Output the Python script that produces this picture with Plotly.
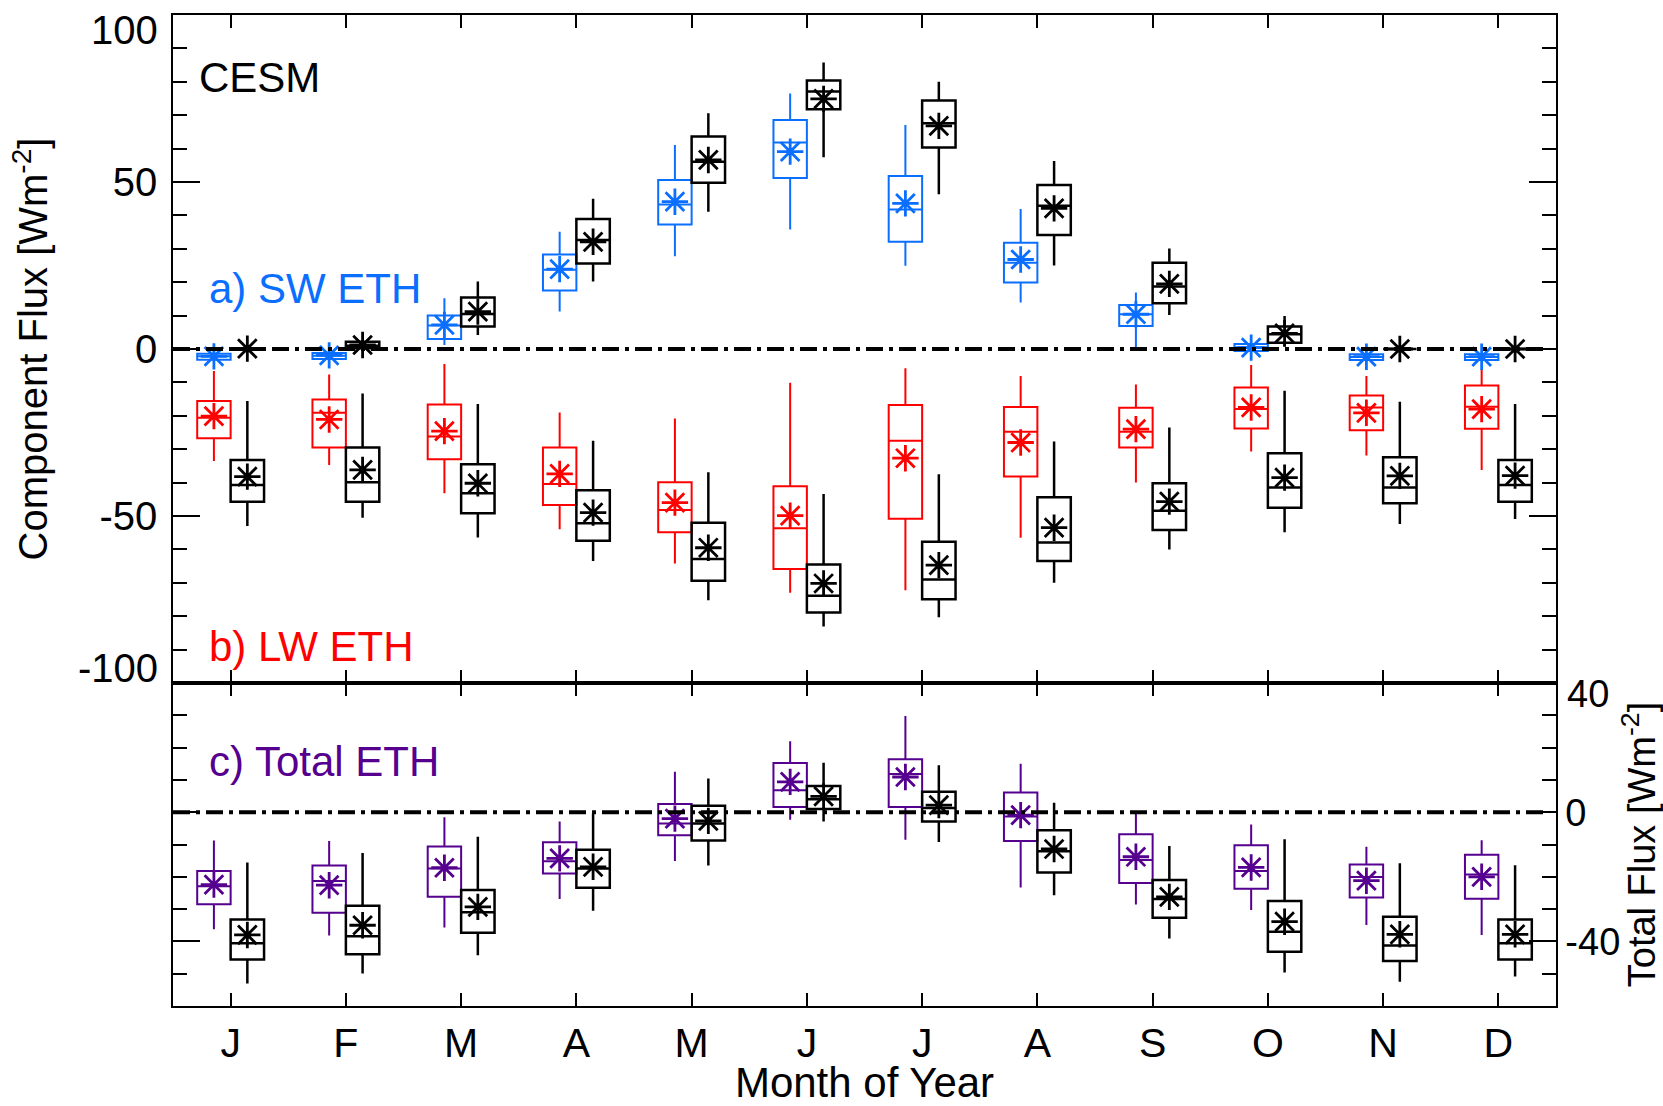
import plotly.graph_objects as go

MONTHS = ["J", "F", "M", "A", "M", "J", "J", "A", "S", "O", "N", "D"]
MONTH_NUM = list(range(1, 13))

# ---- a) SW ETH, model (blue) ----
SW_MOD_LO   = [-3.5, -3.4, 1.2, 11.2, 27.8, 35.8, 24.9, 13.9, 0.2, -0.8, -3.6, -3.6]
SW_MOD_Q1   = [-3.2, -3.0, 3.0, 17.5, 37.3, 51.2, 32.1, 19.9, 6.9, -0.6, -3.3, -3.3]
SW_MOD_MED  = [-2.2, -2.0, 7.0, 23.7, 43.3, 61.8, 41.8, 25.8, 10.4, 0.5, -2.4, -2.4]
SW_MOD_Q3   = [-1.4, -1.2, 10.0, 28.3, 50.6, 68.6, 51.8, 31.8, 13.2, 1.5, -1.6, -1.6]
SW_MOD_HI   = [-1.0, -0.8, 15.2, 35.1, 61.1, 76.5, 67.1, 41.9, 16.9, 1.8, -1.2, -1.2]
SW_MOD_MEAN = [-2.2, -1.9, 7.2, 23.9, 44.1, 59.1, 43.6, 26.8, 10.4, 0.4, -2.3, -2.3]

# ---- a) SW ETH, observations (black) ----
SW_OBS_LO   = [-0.4, 0.0, 4.2, 20.2, 41.1, 57.4, 46.3, 25.0, 10.2, 0.7, 0.0, 0.0]
SW_OBS_Q1   = [-0.2, 0.2, 6.7, 25.6, 49.8, 71.8, 60.3, 34.1, 13.7, 1.9, 0.0, 0.0]
SW_OBS_MED  = [0.0, 1.0, 10.5, 32.6, 56.1, 77.1, 67.6, 42.9, 18.7, 4.4, 0.0, 0.0]
SW_OBS_Q3   = [0.2, 2.2, 15.4, 38.9, 63.6, 80.4, 74.4, 49.1, 25.8, 6.7, 0.0, 0.0]
SW_OBS_HI   = [0.4, 2.6, 20.2, 45.0, 70.6, 85.8, 80.0, 56.3, 30.1, 9.9, 0.0, 0.0]
SW_OBS_MEAN = [0.1, 1.2, 11.2, 32.1, 56.6, 74.9, 66.8, 42.1, 19.5, 4.7, 0.0, 0.0]

# ---- b) LW ETH, model (red) ----
LW_MOD_LO   = [-33.5, -34.7, -43.2, -54.0, -64.2, -73.0, -72.2, -56.5, -40.0, -30.7, -31.9, -36.2]
LW_MOD_Q1   = [-26.7, -29.5, -33.0, -46.7, -54.9, -65.9, -50.8, -38.2, -29.5, -23.8, -24.3, -23.9]
LW_MOD_MED  = [-20.6, -19.1, -26.2, -40.4, -48.2, -53.7, -27.5, -24.8, -24.8, -18.0, -17.5, -17.3]
LW_MOD_Q3   = [-15.6, -15.1, -16.6, -29.5, -39.9, -41.1, -16.8, -17.4, -17.6, -11.5, -13.9, -10.9]
LW_MOD_HI   = [-6.6, -7.6, -4.5, -19.0, -20.8, -10.1, -5.8, -8.1, -10.6, -4.8, -8.1, -6.0]
LW_MOD_MEAN = [-20.1, -21.1, -24.6, -37.4, -46.0, -49.9, -32.7, -28.0, -24.0, -17.5, -19.1, -18.0]

# ---- b) LW ETH, observations (black) ----
LW_OBS_LO   = [-53.0, -50.5, -56.4, -63.5, -75.2, -83.1, -80.3, -70.0, -60.0, -54.9, -52.4, -50.9]
LW_OBS_Q1   = [-45.7, -45.7, -49.2, -57.4, -69.4, -78.9, -74.9, -63.5, -54.2, -47.5, -46.2, -45.7]
LW_OBS_MED  = [-40.7, -39.9, -43.2, -52.2, -62.9, -73.9, -69.0, -57.9, -48.4, -41.5, -41.5, -40.7]
LW_OBS_Q3   = [-33.2, -29.5, -34.5, -42.3, -52.0, -64.5, -57.7, -44.4, -40.2, -31.2, -32.4, -33.2]
LW_OBS_HI   = [-15.6, -13.3, -16.5, -27.5, -36.9, -43.4, -37.5, -27.7, -23.5, -12.5, -15.8, -16.5]
LW_OBS_MEAN = [-38.2, -36.2, -40.2, -49.0, -59.5, -70.2, -64.7, -53.5, -45.7, -38.5, -38.0, -37.9]

# ---- c) Total ETH, model (purple) ----
TOT_MOD_LO   = [-36.2, -38.2, -35.7, -26.9, -15.1, -2.3, -8.5, -23.3, -28.6, -30.3, -34.9, -38.0]
TOT_MOD_Q1   = [-28.5, -31.1, -26.2, -19.0, -7.1, 1.6, 1.6, -8.9, -21.9, -23.7, -26.4, -26.8]
TOT_MOD_MED  = [-22.9, -21.3, -17.4, -15.2, -3.5, 6.8, 11.8, -1.3, -14.8, -18.2, -20.1, -19.3]
TOT_MOD_Q3   = [-18.2, -16.5, -10.6, -9.3, 2.5, 15.2, 16.4, 6.1, -6.8, -10.2, -16.2, -13.2]
TOT_MOD_HI   = [-8.8, -8.9, -1.6, -2.9, 12.5, 22.0, 29.8, 15.0, -0.4, -3.8, -10.7, -8.7]
TOT_MOD_MEAN = [-22.4, -22.6, -17.2, -14.3, -2.0, 9.4, 10.9, -0.9, -13.8, -17.1, -21.2, -20.0]

# ---- c) Total ETH, observations (black) ----
TOT_OBS_LO   = [-53.0, -49.9, -44.3, -30.5, -16.5, -2.9, -9.2, -25.7, -39.1, -49.6, -52.5, -50.9]
TOT_OBS_Q1   = [-45.6, -44.0, -37.3, -23.4, -8.8, 1.0, -2.9, -18.7, -32.7, -43.2, -46.1, -45.6]
TOT_OBS_MED  = [-40.6, -38.4, -31.0, -17.4, -3.5, 4.0, 1.3, -12.1, -26.9, -37.0, -41.3, -40.6]
TOT_OBS_Q3   = [-33.2, -29.0, -24.1, -11.6, 2.0, 8.1, 6.3, -5.6, -21.0, -27.5, -32.4, -33.2]
TOT_OBS_HI   = [-15.6, -12.6, -7.6, -0.4, 10.4, 15.3, 14.5, 2.9, -10.5, -8.4, -15.8, -16.4]
TOT_OBS_MEAN = [-38.0, -35.0, -29.3, -16.9, -2.7, 4.9, 2.2, -11.4, -26.2, -33.9, -37.8, -37.8]

# tick labels
Y1_TICKS = [-50, 0, 50]
Y1_EDGE_TICKS = [-100, 100]
Y2_TICKS = [-40, 0]
Y2_EDGE_TICKS = [40]

BLUE = "#0a6eff"
RED = "#ff0000"
PURPLE = "#55008f"
BLACK = "#000000"
FONT = "Liberation Sans, Arial, Helvetica, sans-serif"

OFF = 0.145
BOXW = 0.29

# page geometry (body margin removed in the page, see write_html below)
W, H = 1663, 1106
PLOT_L, PLOT_R, PLOT_T, PLOT_B = 173, 1556, 15, 1006
PW, PH = PLOT_R - PLOT_L, PLOT_B - PLOT_T

fig = go.Figure()


def add_group(lo, q1, med, q3, hi, mean, color, side, xa, ya, lw):
    xs = [m + side * OFF for m in MONTH_NUM]
    fig.add_trace(go.Box(
        x=xs, q1=q1, median=med, q3=q3, lowerfence=lo, upperfence=hi,
        width=BOXW, whiskerwidth=0, boxpoints=False,
        line=dict(color=color, width=lw), fillcolor="rgba(0,0,0,0)",
        xaxis=xa, yaxis=ya, showlegend=False, hoverinfo="skip",
    ))
    fig.add_trace(go.Scatter(
        x=xs, y=mean, mode="markers",
        marker=dict(symbol="asterisk-open", size=22, color=color,
                    line=dict(color=color, width=2.8)),
        xaxis=xa, yaxis=ya, showlegend=False, hoverinfo="skip",
    ))


add_group(SW_MOD_LO, SW_MOD_Q1, SW_MOD_MED, SW_MOD_Q3, SW_MOD_HI, SW_MOD_MEAN, BLUE, -1, "x", "y", 2)
add_group(SW_OBS_LO, SW_OBS_Q1, SW_OBS_MED, SW_OBS_Q3, SW_OBS_HI, SW_OBS_MEAN, BLACK, 1, "x", "y", 2.5)
add_group(LW_MOD_LO, LW_MOD_Q1, LW_MOD_MED, LW_MOD_Q3, LW_MOD_HI, LW_MOD_MEAN, RED, -1, "x", "y", 2)
add_group(LW_OBS_LO, LW_OBS_Q1, LW_OBS_MED, LW_OBS_Q3, LW_OBS_HI, LW_OBS_MEAN, BLACK, 1, "x", "y", 2.5)
add_group(TOT_MOD_LO, TOT_MOD_Q1, TOT_MOD_MED, TOT_MOD_Q3, TOT_MOD_HI, TOT_MOD_MEAN, PURPLE, -1, "x2", "y2", 2)
add_group(TOT_OBS_LO, TOT_OBS_Q1, TOT_OBS_MED, TOT_OBS_Q3, TOT_OBS_HI, TOT_OBS_MEAN, BLACK, 1, "x2", "y2", 2.5)

DASH = "17px,6px,4px,6px"
for xr, yr in (("x domain", "y"), ("x2 domain", "y2")):
    fig.add_shape(type="line", xref=xr, yref=yr, x0=0, x1=0.995, y0=0, y1=0,
                  line=dict(color="black", width=4, dash=DASH), layer="above")

axis_common = dict(showline=True, linecolor="black", linewidth=1.5, mirror="ticks",
                   ticks="inside", tickcolor="black", tickwidth=1.5, showgrid=False,
                   zeroline=False, automargin=False)

split = 323 / 991

fig.update_layout(
    template="none",
    width=W, height=H,
    margin=dict(l=PLOT_L, r=W - PLOT_R, t=PLOT_T, b=H - PLOT_B, pad=0),
    paper_bgcolor="white", plot_bgcolor="white",
    font=dict(family=FONT, color="black"),
    boxmode="overlay",
    xaxis=dict(axis_common, domain=[0, 1], anchor="y", range=[0.5, 12.5],
               tickvals=MONTH_NUM, ticklen=13, showticklabels=False),
    xaxis2=dict(axis_common, domain=[0, 1], anchor="y2", range=[0.5, 12.5],
                tickvals=MONTH_NUM, ticktext=MONTHS, ticklen=13,
                tickfont=dict(size=41), ticklabelstandoff=0,
                title=dict(text="Month of Year", font=dict(size=42), standoff=31)),
    yaxis=dict(axis_common, domain=[split, 1], anchor="x", range=[-100, 100],
               tickvals=Y1_EDGE_TICKS + Y1_TICKS,
               ticktext=["", ""] + [str(v) for v in Y1_TICKS],
               ticklen=27, tickfont=dict(size=40), ticklabelstandoff=6,
               minor=dict(ticks="inside", ticklen=14, tick0=0, dtick=10,
                          tickcolor="black", tickwidth=1.5),
               title=dict(text="Component Flux [Wm<sup>-2</sup>]", font=dict(size=40), standoff=39)),
    yaxis2=dict(axis_common, domain=[0, split], anchor="x2", side="right", range=[-60, 40],
                tickvals=Y2_EDGE_TICKS + Y2_TICKS,
                ticktext=[""] + [str(v) for v in Y2_TICKS],
                ticklen=27, tickfont=dict(size=38), ticklabelstandoff=0,
                minor=dict(ticks="inside", ticklen=14, tick0=0, dtick=10,
                           tickcolor="black", tickwidth=1.5),
                title=dict(text="Total Flux [Wm<sup>-2</sup>]", font=dict(size=38), standoff=16)),
)

# edge tick labels, nudged inward as in the original
for v, ypix in zip(Y1_EDGE_TICKS, (668, 30)):
    fig.add_annotation(text=str(v), xref="paper", yref="paper",
                       x=(160 - PLOT_L) / PW, y=(PLOT_B - ypix) / PH,
                       xanchor="right", yanchor="middle", showarrow=False,
                       font=dict(size=40, color=BLACK, family=FONT))
for v, ypix in zip(Y2_EDGE_TICKS, (694,)):
    fig.add_annotation(text=str(v), xref="paper", yref="paper",
                       x=(1565 - PLOT_L) / PW, y=(PLOT_B - ypix) / PH,
                       xanchor="left", yanchor="middle", showarrow=False,
                       font=dict(size=38, color=BLACK, family=FONT))

ann = [
    ("CESM", BLACK, 77, 197),
    ("a) SW ETH", BLUE, 288, 207),
    ("b) LW ETH", RED, 646, 207),
    ("c) Total ETH", PURPLE, 761, 207),
]
for text, color, ypix, xpix in ann:
    fig.add_annotation(text=text, xref="paper", yref="paper",
                       x=(xpix - PLOT_L) / PW, y=(PLOT_B - ypix) / PH,
                       xanchor="left", yanchor="middle", showarrow=False,
                       font=dict(size=42, color=color, family=FONT))

fig.write_html("out.html",
               config={"displayModeBar": False},
               post_script="document.body.style.margin='0px';document.body.style.overflow='hidden';")
